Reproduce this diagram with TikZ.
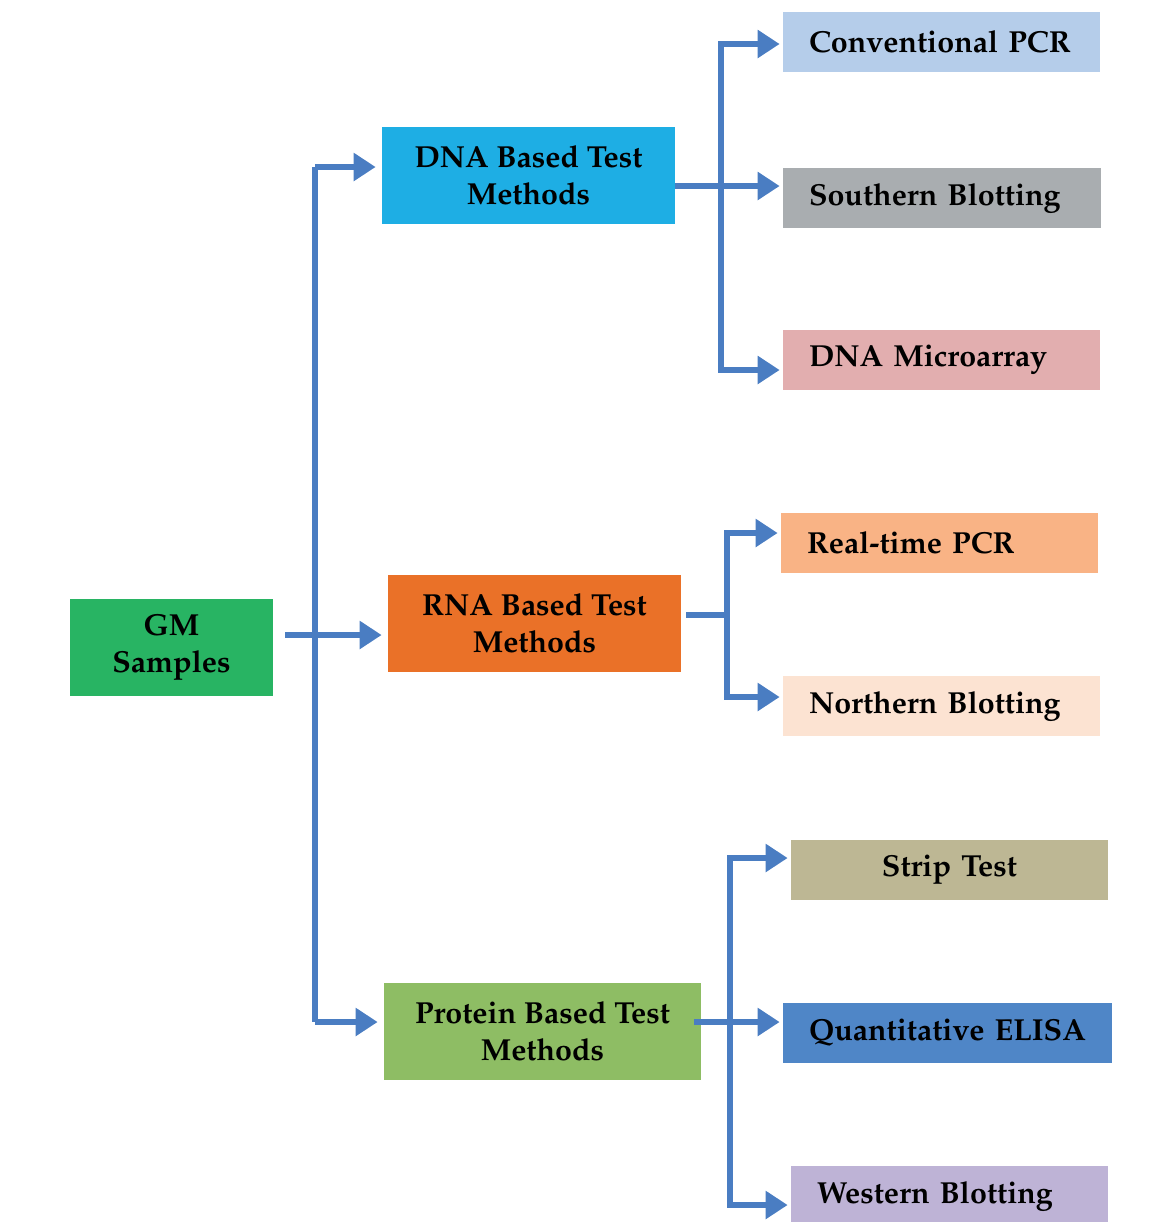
\documentclass[tikz,border=0pt]{standalone}
\usepackage[T1]{fontenc}
\renewcommand{\rmdefault}{ppl}
\usetikzlibrary{arrows.meta}
\definecolor{conn}{HTML}{4A7DC2}
\definecolor{cgm}{HTML}{28B463}
\definecolor{cdna}{HTML}{1EAEE4}
\definecolor{crna}{HTML}{EA7128}
\definecolor{cprot}{HTML}{8EBD64}
\definecolor{cconv}{HTML}{B5CDEA}
\definecolor{csouth}{HTML}{A9ADB0}
\definecolor{cmicro}{HTML}{E2AEAF}
\definecolor{creal}{HTML}{F9B385}
\definecolor{cnorth}{HTML}{FCE3D2}
\definecolor{cstrip}{HTML}{BDB794}
\definecolor{celisa}{HTML}{4F86C7}
\definecolor{cwest}{HTML}{BEB3D6}
\tikzset{
  txt/.style={font=\fontsize{17.3}{21}\selectfont\bfseries, text=black},
  bigbox/.style={txt, minimum height=1.94cm, align=center, inner sep=0pt},
  leafbox/.style={txt, minimum height=1.2cm, inner ysep=0pt, inner xsep=0.52cm, align=left},
  line/.style={draw=conn, line width=0.115cm},
  arr/.style={line, -{Triangle[length=0.44cm, width=0.54cm]}, shorten >=0.06cm},
}
\begin{document}
\begin{tikzpicture}
\useasboundingbox (0,0) rectangle (23.3,-24.44);
% main boxes
\node[bigbox, fill=cgm, minimum width=4.06cm] (gm) at (3.43,-12.94) {GM\\Samples};
\node[bigbox, fill=cdna, minimum width=5.86cm] (dna) at (10.57,-3.51) {DNA Based Test\\Methods};
\node[bigbox, fill=crna, minimum width=5.86cm] (rna) at (10.69,-12.47) {RNA Based Test\\Methods};
\node[bigbox, fill=cprot, minimum width=6.34cm] (prot) at (10.85,-20.63) {Protein Based Test\\Methods};
% leaves
\node[leafbox, fill=cconv, text width=5.30cm] (conv) at (18.83,-0.84) {Conventional PCR};
\node[leafbox, fill=csouth, text width=5.32cm] (south) at (18.84,-3.96) {Southern Blotting};
\node[leafbox, fill=cmicro, text width=5.30cm] (micro) at (18.83,-7.20) {DNA Microarray};
\node[leafbox, fill=creal, text width=5.30cm] (real) at (18.79,-10.86) {Real-time PCR};
\node[leafbox, fill=cnorth, text width=5.30cm] (north) at (18.83,-14.12) {Northern Blotting};
\node[leafbox, fill=cstrip, text width=5.30cm, align=center] (strip) at (18.99,-17.40) {Strip Test};
\node[leafbox, fill=celisa, text width=5.54cm] (elisa) at (18.95,-20.66) {Quantitative ELISA};
\node[leafbox, fill=cwest, text width=5.30cm] (west) at (18.99,-23.92) {Western Blotting};
% left trunk
\coordinate (jt) at (6.30,-3.34);
\coordinate (jb) at (6.30,-20.44);
\coordinate (gmout) at (5.70,-12.70);
\draw[line] (jt) -- (jb);
\draw[arr, shorten >=0.12cm] (jt) -- (jt -| dna.west);
\draw[arr, shorten >=0.12cm] (jb) -- (jb -| prot.west);
\draw[arr, shorten >=0.12cm] (gmout) -- (gmout -| rna.west);
% DNA branch
\coordinate (dj) at (14.42,-3.72);
\coordinate (dt) at (14.42,-0.88);
\coordinate (db) at (14.42,-7.40);
\draw[arr] (dna.east |- dj) -- (dj -| south.west);
\draw[arr] (dj) -- (dt) -- (dt -| conv.west);
\draw[arr] (dj) -- (db) -- (db -| micro.west);
% RNA branch
\coordinate (rj) at (14.54,-12.30);
\coordinate (rt) at (14.54,-10.66);
\coordinate (rb) at (14.54,-13.94);
\draw[line] (13.72,-12.30) -- (rj);
\draw[arr] (rj) -- (rt) -- (rt -| real.west);
\draw[arr] (rj) -- (rb) -- (rb -| north.west);
% Protein branch
\coordinate (pj) at (14.60,-20.44);
\coordinate (pt) at (14.60,-17.16);
\coordinate (pb) at (14.60,-24.10);
\draw[arr] (13.88,-20.44) -- (pj -| elisa.west);
\draw[arr] (pj) -- (pt) -- (pt -| strip.west);
\draw[arr] (pj) -- (pb) -- (pb -| west.west);
\end{tikzpicture}
\end{document}
